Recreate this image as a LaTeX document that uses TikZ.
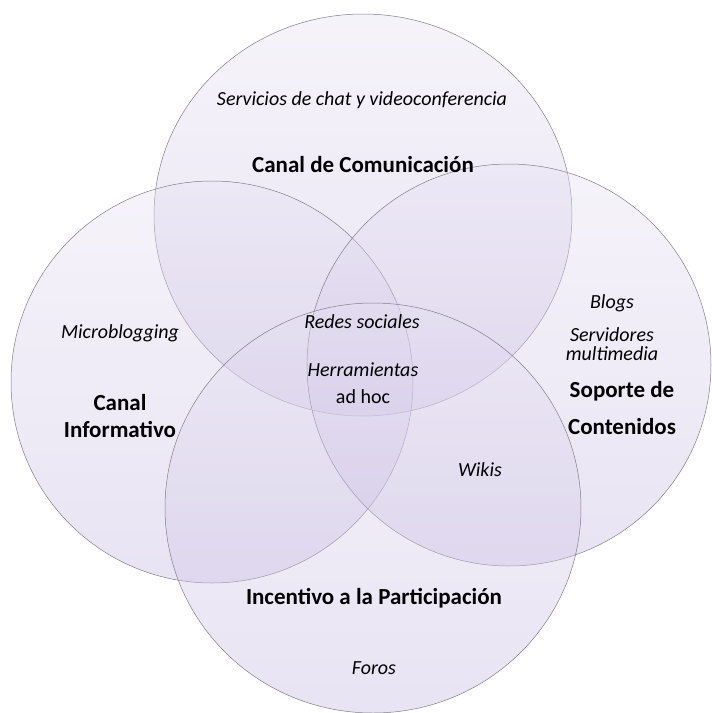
\documentclass[tikz,border=0pt]{standalone}
\usepackage{fontspec}
\setmainfont{Carlito}
\usepackage{xcolor}
\definecolor{vennTop}{RGB}{230,224,242}
\definecolor{vennBot}{RGB}{196,182,224}
\definecolor{vennLine}{RGB}{130,126,136}

\begin{document}
\begin{tikzpicture}[
  x=1pt, y=-1pt,
  % circle styling
  venn/.style={draw=vennLine, line width=0.5pt, top color=vennTop, bottom color=vennBot, fill opacity=0.38},
  % text styles
  every node/.style={align=center, inner sep=1pt},
  title/.style={font=\fontsize{23}{27}\selectfont\bfseries},
  tool/.style={font=\fontsize{20}{22}\selectfont\itshape}
]
\useasboundingbox (0,0) rectangle (712,713);

% the four areas
\draw[venn] (363,215) ellipse [x radius=209pt, y radius=201pt];
\draw[venn] (212,382) ellipse [x radius=201pt, y radius=201pt];
\draw[venn] (509,365) ellipse [x radius=202pt, y radius=201pt];
\draw[venn] (373,508) ellipse [x radius=208pt, y radius=205pt];

% Canal de Comunicacion
\node[tool] (chat) at (362,100) {Servicios de chat y videoconferencia};
\node[title] (comunicacion) at (363,165) {Canal de Comunicación};

% Canal Informativo
\node[tool] (micro) at (120,333) {Microblogging};
\node[title, font=\fontsize{23}{27}\selectfont\bfseries] (informativo) at (120,416) {Canal\\Informativo};

% Soporte de Contenidos
\node[tool] (blogs) at (612,303) {Blogs};
\node[tool, font=\fontsize{20}{19}\selectfont\itshape] (servidores) at (612,344) {Servidores\\multimedia};
\node[title, font=\fontsize{23}{37}\selectfont\bfseries] (contenidos) at (622,408) {Soporte de\\Contenidos};
\node[tool] (wikis) at (480,470) {Wikis};

% centre
\node[tool] (redes) at (362,322) {Redes sociales};
\node[tool] (herramientas) at (363,370) {Herramientas};
\node[font=\fontsize{20}{22}\selectfont] (adhoc) at (363,397) {ad hoc};

% Incentivo a la Participacion
\node[title] (incentivo) at (374,598) {Incentivo a la Participación};
\node[tool] (foros) at (374,668) {Foros};

\end{tikzpicture}
\end{document}
